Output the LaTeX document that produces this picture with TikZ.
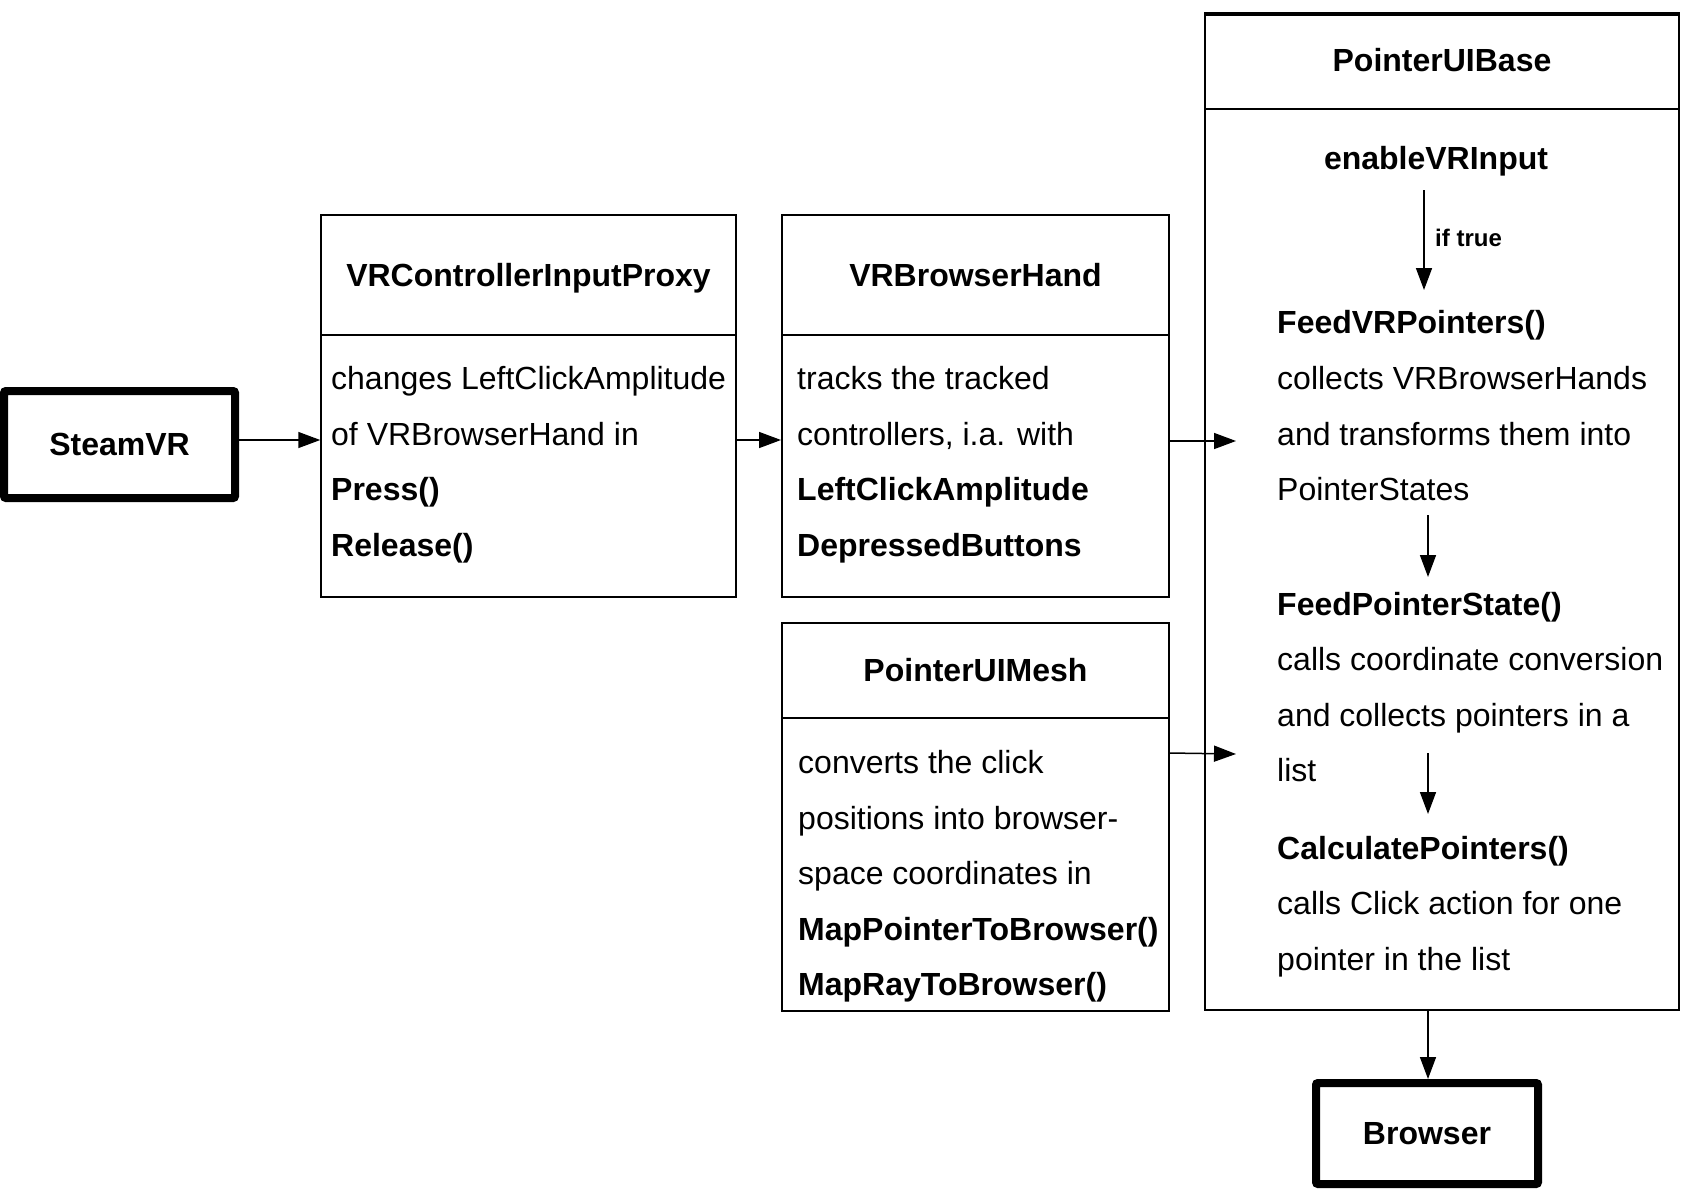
\documentclass[tikz,border=0pt]{standalone}
\usepackage{fontspec}
\setmainfont{Liberation Sans}
\usetikzlibrary{arrows.meta}
\begin{document}
\begin{tikzpicture}[x=1pt,y=-1pt,
 box/.style={draw, line width=1.5pt, inner sep=0pt},
 heavybox/.style={draw, line width=8pt, rounded corners=2pt, inner sep=0pt, font=\bfseries\fontsize{32}{38}\selectfont},
 txt/.style={anchor=base west, inner sep=0pt, font=\fontsize{32}{38}\selectfont},
 btxt/.style={anchor=base west, inner sep=0pt, font=\bfseries\fontsize{32}{38}\selectfont},
 ttl/.style={anchor=base, inner sep=0pt, font=\bfseries\fontsize{32}{38}\selectfont},
 sep/.style={line width=1.5pt},
 conn/.style={line width=1.5pt, -{Triangle[length=22pt,width=16pt]}},
]
\fill[white] (0,0) rectangle (1684,1191);
\useasboundingbox (0,0) rectangle (1684,1191);

% boxes
\node[heavybox, minimum width=231pt, minimum height=107pt] (steam) at (119.5,444.5) {SteamVR};
\node[box, minimum width=415pt, minimum height=382pt] (proxy) at (528.5,406) {};
\node[box, line width=2pt, minimum width=387pt, minimum height=382pt] (hand) at (975.5,406) {};
\node[box, line width=2pt, minimum width=387pt, minimum height=388pt] (mesh) at (975.5,817) {};
\node[box, minimum width=474pt, minimum height=997pt] (base) at (1442,511.5) {};
\node[heavybox, minimum width=222pt, minimum height=101pt] (browser) at (1427,1133.5) {Browser};

% header separators
\draw[sep] (321,335) -- (736,335);
\draw[sep, line width=2pt] (782,335) -- (1169,335);
\draw[sep, line width=2pt] (782,718) -- (1169,718);
\draw[sep] (1205,109) -- (1679,109);
\draw[line width=1.5pt] (1205,15) -- (1679,15);

% titles
\node[ttl] (proxyT) at (528.5,286) {VRControllerInputProxy};
\node[ttl] (handT) at (975.5,286) {VRBrowserHand};
\node[ttl] (meshT) at (975.5,681) {PointerUIMesh};
\node[ttl] (baseT) at (1442,71) {PointerUIBase};

% proxy body
\node[txt] (p1) at (331,389.5) {changes LeftClickAmplitude};
\node[txt] (p2) at (331,445) {of VRBrowserHand in};
\node[btxt] (p3) at (331,500.5) {Press()};
\node[btxt] (p4) at (331,556) {Release()};

% hand body
\node[txt] (h1) at (797,389.5) {tracks the tracked};
\node[txt] (h2) at (797,445) {controllers, i.a. with};
\node[btxt] (h3) at (797,500.5) {LeftClickAmplitude};
\node[btxt] (h4) at (797,556) {DepressedButtons};

% mesh body
\node[txt] (m1) at (798,773.5) {converts the click};
\node[txt] (m2) at (798,829) {positions into browser-};
\node[txt] (m3) at (798,884.5) {space coordinates in};
\node[btxt] (m4) at (798,940) {MapPointerToBrowser()};
\node[btxt] (m5) at (798,995) {MapRayToBrowser()};

% base body
\node[ttl] (en) at (1436,169) {enableVRInput};
\node[anchor=base west, inner sep=0pt, font=\bfseries\fontsize{24}{28}\selectfont] (iftrue) at (1435,246) {if true};
\node[btxt] (b1) at (1277,333.5) {FeedVRPointers()};
\node[txt] (b2) at (1277,389.5) {collects VRBrowserHands};
\node[txt] (b3) at (1277,445) {and transforms them into};
\node[txt] (b4) at (1277,500.5) {PointerStates};
\node[btxt] (b5) at (1277,615) {FeedPointerState()};
\node[txt] (b6) at (1277,670.5) {calls coordinate conversion};
\node[txt] (b7) at (1277,726) {and collects pointers in a};
\node[txt] (b8) at (1277,781.5) {list};
\node[btxt] (b9) at (1277,859) {CalculatePointers()};
\node[txt] (b10) at (1277,914.5) {calls Click action for one};
\node[txt] (b11) at (1277,970) {pointer in the list};

% coordinates
\coordinate (yA) at (0,440);
\coordinate (inHand) at (1236,441);
\coordinate (inMesh) at (1236,754);
\coordinate (a1s) at (1424,190);
\coordinate (a1e) at (1424,290);
\coordinate (a2s) at (1428,515);
\coordinate (a2e) at (1428,577);
\coordinate (a3s) at (1428,753);
\coordinate (a3e) at (1428,814);
\coordinate (a4s) at (1428,1010);

% connectors
\draw[conn] (steam.east |- yA) -- (proxy.west |- yA);
\draw[conn] (proxy.east |- yA) -- (hand.west |- yA);
\draw[conn] (hand.east |- inHand) -- (inHand);
\draw[conn] (1169,753) -- (inMesh);
\draw[conn] (a1s) -- (a1e);
\draw[conn] (a2s) -- (a2e);
\draw[conn] (a3s) -- (a3e);
\draw[conn] (a4s) -- (a4s |- browser.north);
\end{tikzpicture}
\end{document}
